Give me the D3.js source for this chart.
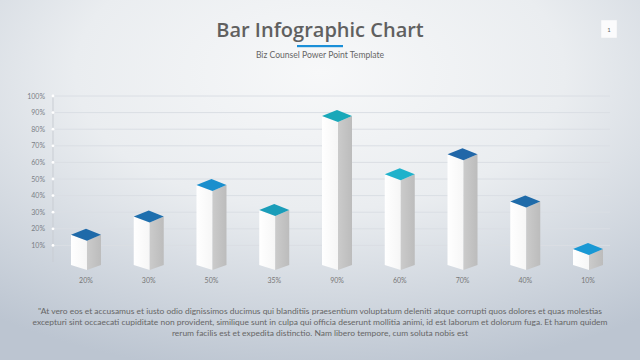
<!DOCTYPE html>
<html>
<head>
<meta charset="utf-8">
<script src="https://cdn.jsdelivr.net/npm/d3@7"></script>
<style>
html,body{margin:0;padding:0;width:640px;height:360px;overflow:hidden;}
svg{display:block;}
</style>
</head>
<body>
<svg id="chart" width="640" height="360"></svg>
<script>
const categories = ["20%","30%","50%","35%","90%","60%","70%","40%","10%"];
const values = [20,31,50,35,91.5,56.5,68.5,40,11.5];
const topColors = ["#1f6aa9","#1e6fae","#1b8fcd","#1a9db9","#19a8b9","#1fb2cb","#2167a8","#1f6ba9","#1998d4"];
const yTicks = [10,20,30,40,50,60,70,80,90,100];
const title = "Bar Infographic Chart";
const subtitle = "Biz Counsel Power Point Template";
const footnote = [
  "\"At vero eos et accusamus et iusto odio dignissimos ducimus qui blanditiis praesentium voluptatum deleniti atque corrupti quos dolores et quas molestias",
  "excepturi sint occaecati cupiditate non provident, similique sunt in culpa qui officia deserunt mollitia animi, id est laborum et dolorum fuga. Et harum quidem",
  "rerum facilis est et expedita distinctio. Nam libero tempore, cum soluta nobis est"
];

const svg = d3.select("#chart");
const W = 640, H = 360;
const defs = svg.append("defs");

const bg = defs.append("radialGradient").attr("id","bg")
  .attr("cx","50%").attr("cy","20%").attr("r","85%");
bg.append("stop").attr("offset","0%").attr("stop-color","#f7f8f9");
bg.append("stop").attr("offset","45%").attr("stop-color","#eaedf0");
bg.append("stop").attr("offset","100%").attr("stop-color","#bcc5d1");
svg.append("rect").attr("width",W).attr("height",H).attr("fill","url(#bg)");

const sideG = defs.append("linearGradient").attr("id","side").attr("x1","0").attr("x2","1");
sideG.append("stop").attr("offset","0%").attr("stop-color","#cbcbcb");
sideG.append("stop").attr("offset","100%").attr("stop-color","#bcbcbc");
const frontG = defs.append("linearGradient").attr("id","front").attr("x1","0").attr("x2","1");
frontG.append("stop").attr("offset","0%").attr("stop-color","#ffffff");
frontG.append("stop").attr("offset","100%").attr("stop-color","#f6f6f6");

// Title
svg.append("text").attr("x",320).attr("y",37).attr("text-anchor","middle")
  .attr("font-family","Open Sans, sans-serif").attr("font-size",20).attr("font-weight",600)
  .attr("fill","#606060").text(title);
svg.append("rect").attr("x",297).attr("y",45).attr("width",46).attr("height",2.2).attr("fill","#1a8fd8");
svg.append("text").attr("x",320).attr("y",57.5).attr("text-anchor","middle")
  .attr("font-family","Lato, sans-serif").attr("font-size",8.6)
  .attr("fill","#666").text(subtitle);

// page number
svg.append("rect").attr("x",601).attr("y",20).attr("width",16).attr("height",18).attr("fill","#fbfbfc")
  .attr("stroke","#e4e6ea").attr("stroke-width",0.5);
svg.append("text").attr("x",609).attr("y",32).attr("text-anchor","middle")
  .attr("font-family","Lato, sans-serif").attr("font-size",6).attr("fill","#666").text("1");

// scales
const x = d3.scaleBand().domain(categories).range([54.6, 619.4]);
const y = d3.scaleLinear().domain([0,100]).range([262,96]);

// gridlines
svg.append("g").selectAll("line").data(yTicks).join("line")
  .attr("x1",53).attr("x2",610).attr("y1",d=>y(d)).attr("y2",d=>y(d))
  .attr("stroke","#dadee4").attr("stroke-width",1);

// axis
svg.append("line").attr("x1",53).attr("x2",53).attr("y1",y(100)).attr("y2",y(0))
  .attr("stroke","#c9cdd3").attr("stroke-width",1);
svg.append("g").selectAll("circle").data(yTicks).join("circle")
  .attr("cx",53).attr("cy",d=>y(d)).attr("r",1.4).attr("fill","#ffffff");
svg.append("g").selectAll("text").data(yTicks).join("text")
  .attr("x",45).attr("y",d=>y(d)+2.5).attr("text-anchor","end")
  .attr("font-family","Lato, sans-serif").attr("font-size",7).attr("fill","#7a7f86")
  .text(d=>d+"%");

// bars
const base = 265;
const bars = svg.append("g").selectAll("g").data(values).join("g");
bars.each(function(v,i){
  const g = d3.select(this);
  const c = x(categories[i]) + x.bandwidth()/2;
  const t = y(v);
  const L = c-15, M = c+1, R = c+15;
  g.append("path").attr("d",`M${L},${t+6}L${M},${t+12}L${M},${base+5}L${L},${base}Z`)
    .attr("fill","url(#front)");
  g.append("path").attr("d",`M${M},${t+12}L${R},${t+6}L${R},${base}L${M},${base+5}Z`)
    .attr("fill","url(#side)");
  g.append("path").attr("d",`M${c},${t}L${R},${t+6}L${M},${t+12}L${L},${t+6}Z`)
    .attr("fill",topColors[i]);
});

// x labels
svg.append("g").selectAll("text").data(categories).join("text")
  .attr("x",d=>x(d)+x.bandwidth()/2).attr("y",282.5).attr("text-anchor","middle")
  .attr("font-family","Lato, sans-serif").attr("font-size",7).attr("fill","#777")
  .text(d=>d);

// footnote
svg.append("g").selectAll("text").data(footnote).join("text")
  .attr("x",320).attr("y",(d,i)=>313.5+i*11).attr("text-anchor","middle")
  .attr("font-family","Lato, sans-serif").attr("font-size",8.45).attr("fill","#666")
  .text(d=>d);
</script>
</body>
</html>
